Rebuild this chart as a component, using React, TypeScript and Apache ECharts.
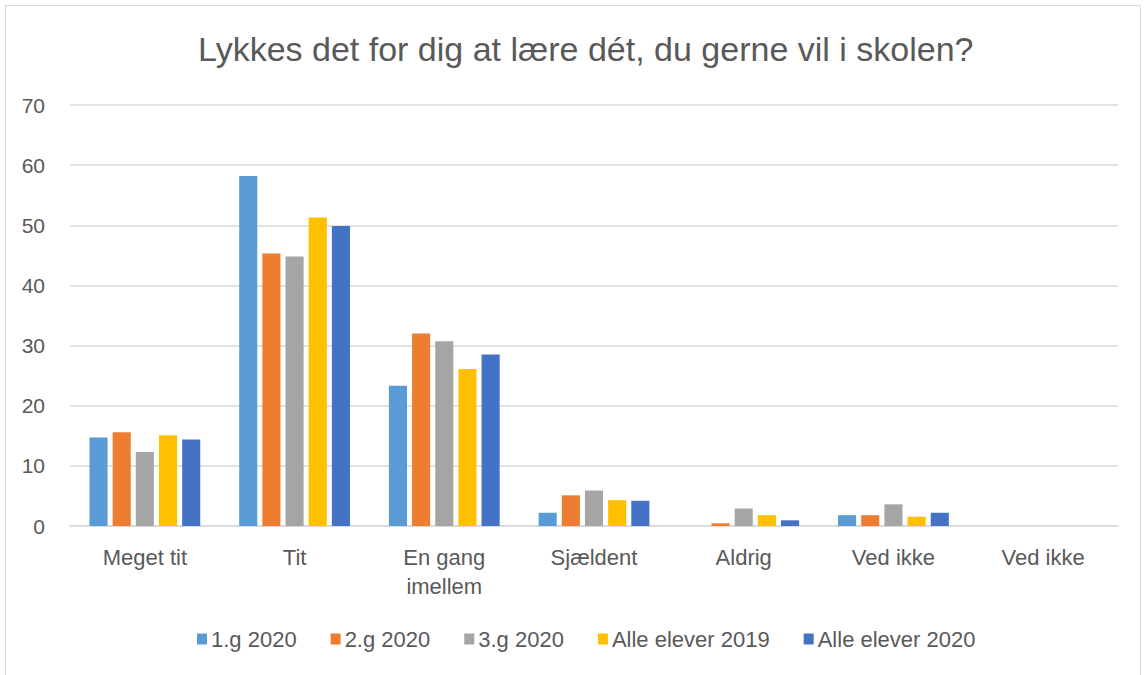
import React, { useEffect, useRef } from "react";
import * as echarts from "echarts";

const categories = ["Meget tit", "Tit", "En gang\nimellem", "Sjældent", "Aldrig", "Ved ikke", "Ved ikke"];
const seriesNames = ["1.g 2020", "2.g 2020", "3.g 2020", "Alle elever 2019", "Alle elever 2020"];
const g1_2020 = [14.7, 58.2, 23.3, 2.2, 0, 1.8, 0];
const g2_2020 = [15.6, 45.3, 32.0, 5.1, 0.45, 1.8, 0];
const g3_2020 = [12.3, 44.8, 30.7, 5.9, 2.9, 3.6, 0];
const alle2019 = [15.1, 51.3, 26.1, 4.3, 1.8, 1.55, 0];
const alle2020 = [14.4, 49.9, 28.5, 4.2, 0.95, 2.2, 0];
const colors = ["#5B9BD5", "#ED7D31", "#A5A5A5", "#FFC000", "#4472C4"];
const yTicks = { min: 0, max: 70, interval: 10 };

const FONT = "'Liberation Sans', Arial, sans-serif";

export default function App() {
  const ref = useRef<HTMLDivElement>(null);
  useEffect(() => {
    if (!ref.current) return;
    const chart = echarts.init(ref.current, undefined, { renderer: "svg" });
    const values = [g1_2020, g2_2020, g3_2020, alle2019, alle2020];
    chart.setOption({
      animation: false,
      backgroundColor: "#ffffff",
      textStyle: { fontFamily: FONT },
      title: {
        text: "Lykkes det for dig at lære dét, du gerne vil i skolen?",
        left: 193,
        top: 27,
        textStyle: { fontSize: 34, fontWeight: "normal", color: "#595959", fontFamily: FONT },
      },
      graphic: [
        {
          type: "rect",
          shape: { x: 5.5, y: 5.5, width: 1135, height: 690 },
          style: { fill: "none", stroke: "#D9D9D9", lineWidth: 1 },
          silent: true,
        },
      ],
      grid: { left: 70, right: 28, top: 105, bottom: 149 },
      legend: {
        bottom: 20,
        left: 192,
        itemWidth: 10,
        itemHeight: 11,
        itemGap: 34,
        icon: "rect",
        textStyle: { fontSize: 22, color: "#595959", fontFamily: FONT, padding: [0, 0, 0, -1] },
        data: seriesNames,
      },
      xAxis: {
        type: "category",
        data: categories,
        axisLine: { lineStyle: { color: "#D9D9D9", width: 1.5 } },
        axisTick: { show: false },
        axisLabel: { fontSize: 22, color: "#595959", margin: 17, lineHeight: 29, interval: 0, fontFamily: FONT },
      },
      yAxis: {
        type: "value",
        min: yTicks.min,
        max: yTicks.max,
        interval: yTicks.interval,
        axisLine: { show: false },
        axisTick: { show: false },
        splitLine: { lineStyle: { color: "#D9D9D9", width: 1.5 } },
        axisLabel: { fontSize: 21, color: "#595959", margin: 25, fontFamily: FONT },
      },
      series: seriesNames.map((name, i) => ({
        name,
        type: "bar",
        data: values[i],
        barGap: "28%",
        barCategoryGap: "26%",
        itemStyle: { color: colors[i] },
      })),
    });
    return () => chart.dispose();
  }, []);
  return (
    <div
      ref={ref}
      style={{ position: "fixed", left: 0, top: 0, width: 1146, height: 675 }}
    />
  );
}
